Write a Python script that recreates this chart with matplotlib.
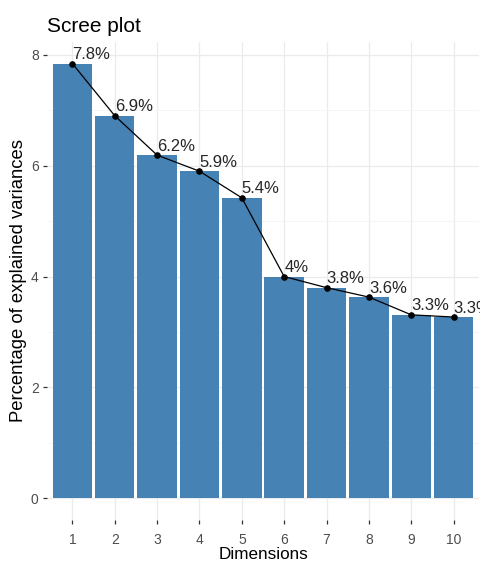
import matplotlib
matplotlib.use("Agg")
import matplotlib.pyplot as plt
from matplotlib.ticker import MultipleLocator

# Scree plot data
dimensions = [1, 2, 3, 4, 5, 6, 7, 8, 9, 10]
variances = [7.84, 6.90, 6.19, 5.90, 5.42, 4.00, 3.80, 3.63, 3.31, 3.27]
labels = ["7.8%", "6.9%", "6.2%", "5.9%", "5.4%", "4%", "3.8%", "3.6%", "3.3%", "3.3%"]

BAR_COLOR = "steelblue"
GRID_COLOR = "#EBEBEB"
TICK_COLOR = "#4D4D4D"

plt.rcParams["font.family"] = ["Liberation Sans", "DejaVu Sans"]

fig = plt.figure(figsize=(4.81, 5.62), dpi=100)
ax = fig.add_axes([47 / 481, 1 - 520 / 562, 432 / 481, 478 / 562])

ax.bar(dimensions, variances, width=0.93, color=BAR_COLOR, zorder=2)
ax.plot(dimensions, variances, color="black", linewidth=0.9, zorder=3)
ax.scatter(dimensions, variances, color="black", s=14, zorder=4)

for x, y, lab in zip(dimensions, variances, labels):
    ax.annotate(lab, (x, y), xytext=(0, 1), textcoords="offset points",
                ha="left", va="bottom", fontsize=12, color="#262626",
                annotation_clip=False, zorder=5)

ax.set_xlim(0.4, 10.6)
ax.set_ylim(-0.39, 8.23)
ax.set_xticks(dimensions)
ax.set_yticks([0, 2, 4, 6, 8])
ax.yaxis.set_minor_locator(MultipleLocator(1))

# theme_minimal look
for s in ax.spines.values():
    s.set_visible(False)
ax.grid(True, which="major", color=GRID_COLOR, linewidth=0.9, zorder=0)
ax.grid(True, which="minor", axis="y", color="#F4F4F4", linewidth=0.6, zorder=0)
ax.set_axisbelow(True)
ax.tick_params(axis="both", which="major", length=3, width=0.9, color="#333333",
               labelcolor=TICK_COLOR, labelsize=10, pad=3)
ax.tick_params(axis="both", which="minor", length=0)
ax.tick_params(axis="x", pad=6)

ax.set_xlabel("Dimensions", fontsize=12.3, labelpad=0.5)
ax.set_ylabel("Percentage of explained variances", fontsize=13.3, labelpad=3)
ax.set_title("Scree plot", loc="left", fontsize=15, pad=7)

fig.savefig("out.png", dpi=100)
